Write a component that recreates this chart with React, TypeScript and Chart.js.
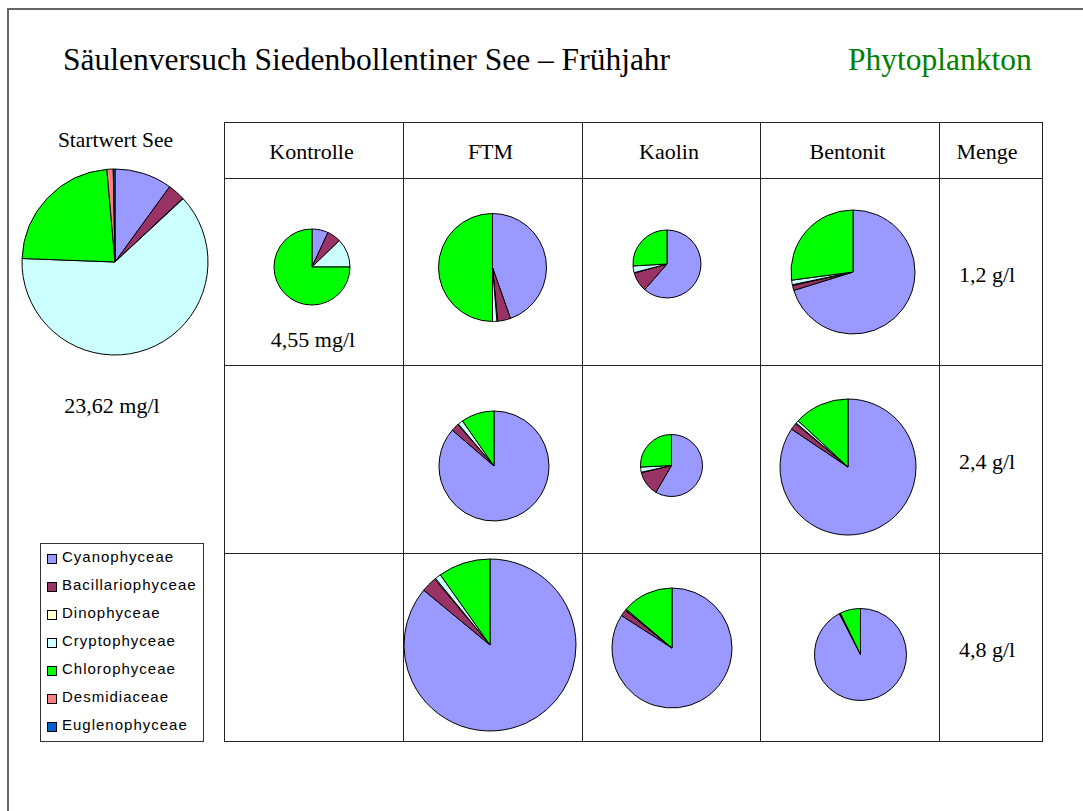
import React, { useEffect, useRef } from "react";
import { Chart, registerables } from "chart.js";

Chart.register(...registerables);

// ---------- data ----------
const categories = [
  "Cyanophyceae",
  "Bacillariophyceae",
  "Dinophyceae",
  "Cryptophyceae",
  "Chlorophyceae",
  "Desmidiaceae",
  "Euglenophyceae",
];
const colors = ["#9999FF", "#993366", "#FFFFCC", "#CCFFFF", "#00FF00", "#FF8080", "#0066CC"];

const treatments = ["Kontrolle", "FTM", "Kaolin", "Bentonit"];
const doseLabels = ["1,2 g/l", "2,4 g/l", "4,8 g/l"];

// shares in % (order as categories)
const startShares = [10.0, 3.0, 0.1, 62.5, 23.0, 1.1, 0.3];
const startTotal = 23.62; // mg/l

const kontrolleShares = [6.9, 5.9, 0, 12.2, 75.0, 0, 0];
const kontrolleTotal = 4.55; // mg/l

const ftmShares12 = [44.6, 3.9, 0.2, 1.3, 50.0, 0, 0];
const ftmShares24 = [86.3, 2.3, 0.2, 1.5, 9.7, 0, 0];
const ftmShares48 = [86.0, 2.9, 0.2, 1.1, 9.8, 0, 0];

const kaolinShares12 = [61.4, 9.3, 0.2, 3.2, 25.9, 0, 0];
const kaolinShares24 = [58.4, 12.9, 0.2, 2.7, 25.8, 0, 0];
const kaolinShares48 = [84.1, 1.7, 0.1, 0.3, 13.8, 0, 0];

const bentonitShares12 = [70.2, 1.3, 0.2, 1.2, 27.1, 0, 0];
const bentonitShares24 = [84.4, 1.6, 0.2, 0.7, 13.1, 0, 0];
const bentonitShares48 = [92.4, 0.4, 0, 0, 7.2, 0, 0];

// totals (mg/l) estimated from pie areas
const ftmTotals = [9.19, 9.53, 23.3];
const kaolinTotals = [3.64, 3.03, 11.34];
const bentonitTotals = [12.11, 14.57, 6.67];

// ---------- layout ----------
const SERIF = '"Liberation Serif", "Times New Roman", serif';
const SANS = '"Liberation Sans", Arial, sans-serif';
const colEdges = [224, 403, 582, 760, 939, 1042];
const rowEdges = [122, 178, 365, 553, 741];
const pieCenters: Record<string, [number, number]> = {
  "0-0": [312, 267],
  "0-1": [492, 267],
  "0-2": [667, 264],
  "0-3": [853, 272],
  "1-1": [494, 466],
  "1-2": [671, 465],
  "1-3": [848, 467],
  "2-1": [490, 645],
  "2-2": [672, 648],
  "2-3": [860, 654],
};
const GRID_R0 = 38; // radius for the Kontrolle reference pie
const START_R = 93;

const fmt = (v: number) => v.toFixed(2).replace(".", ",");

function Pie({ values, radius, cx, cy }: { values: number[]; radius: number; cx: number; cy: number }) {
  const ref = useRef<HTMLCanvasElement>(null);
  const size = Math.ceil(radius * 2 + 6);
  useEffect(() => {
    const chart = new Chart(ref.current as HTMLCanvasElement, {
      type: "pie",
      data: {
        labels: categories,
        datasets: [
          {
            data: values,
            backgroundColor: colors,
            borderColor: "#000000",
            borderWidth: 1,
            radius: radius,
          } as any,
        ],
      },
      options: {
        responsive: false,
        animation: false,
        events: [],
        layout: { padding: 0 },
        plugins: { legend: { display: false }, tooltip: { enabled: false } },
      },
    });
    return () => chart.destroy();
  }, [values, radius]);
  return (
    <canvas
      ref={ref}
      width={size}
      height={size}
      style={{ position: "absolute", left: cx - size / 2, top: cy - size / 2, width: size, height: size }}
    />
  );
}

function Txt({
  x,
  y,
  size,
  children,
  align = "left",
  font = SERIF,
  color = "#000",
  spacing = 0,
}: {
  x: number;
  y: number;
  size: number;
  children: React.ReactNode;
  align?: "left" | "center";
  font?: string;
  color?: string;
  spacing?: number;
}) {
  const k = font === SANS ? 0.8465 : 0.8375;
  return (
    <div
      style={{
        position: "absolute",
        left: x,
        top: y - k * size,
        fontFamily: font,
        fontSize: size,
        lineHeight: `${size}px`,
        color,
        whiteSpace: "nowrap",
        letterSpacing: spacing,
        transform: align === "center" ? "translateX(-50%)" : undefined,
      }}
    >
      {children}
    </div>
  );
}

function Line({ x, y, w, h }: { x: number; y: number; w: number; h: number }) {
  return <div style={{ position: "absolute", left: x, top: y, width: w, height: h, background: "#222" }} />;
}

export default function App() {
  const grid: { row: number; col: number; values: number[]; total: number }[] = [
    { row: 0, col: 0, values: kontrolleShares, total: kontrolleTotal },
    { row: 0, col: 1, values: ftmShares12, total: ftmTotals[0] },
    { row: 0, col: 2, values: kaolinShares12, total: kaolinTotals[0] },
    { row: 0, col: 3, values: bentonitShares12, total: bentonitTotals[0] },
    { row: 1, col: 1, values: ftmShares24, total: ftmTotals[1] },
    { row: 1, col: 2, values: kaolinShares24, total: kaolinTotals[1] },
    { row: 1, col: 3, values: bentonitShares24, total: bentonitTotals[1] },
    { row: 2, col: 1, values: ftmShares48, total: ftmTotals[2] },
    { row: 2, col: 2, values: kaolinShares48, total: kaolinTotals[2] },
    { row: 2, col: 3, values: bentonitShares48, total: bentonitTotals[2] },
  ];
  const tableW = colEdges[colEdges.length - 1] - colEdges[0];
  const tableH = rowEdges[rowEdges.length - 1] - rowEdges[0];
  return (
    <div style={{ position: "fixed", inset: 0, overflow: "hidden", background: "#fff" }}>
      {/* slide frame */}
      <div
        style={{
          position: "absolute",
          left: 7,
          top: 8,
          width: 1200,
          height: 1000,
          borderLeft: "2px solid #666",
          borderTop: "2px solid #666",
        }}
      />
      <Txt x={63} y={70} size={31.5}>
        Säulenversuch Siedenbollentiner See – Frühjahr
      </Txt>
      <Txt x={848} y={70} size={31.5} color="#008000">
        Phytoplankton
      </Txt>

      {/* start pie */}
      <Txt x={115.5} y={148} size={21.5} align="center">
        Startwert See
      </Txt>
      <Pie values={startShares} radius={START_R} cx={115} cy={262} />
      <Txt x={112} y={413} size={22} align="center">
        {fmt(startTotal)} mg/l
      </Txt>

      {/* legend */}
      <div
        style={{
          position: "absolute",
          left: 40,
          top: 543,
          width: 164,
          height: 199,
          boxSizing: "border-box",
          border: "1px solid #333",
        }}
      />
      {categories.map((c, i) => (
        <React.Fragment key={c}>
          <div
            style={{
              position: "absolute",
              left: 47,
              top: 554 + 28 * i,
              width: 10,
              height: 10,
              boxSizing: "border-box",
              border: "1px solid #000",
              background: colors[i],
            }}
          />
          <Txt x={62} y={562 + 28 * i} size={15} font={SANS} spacing={1}>
            {c}
          </Txt>
        </React.Fragment>
      ))}

      {/* table */}
      <div
        style={{
          position: "absolute",
          left: colEdges[0],
          top: rowEdges[0],
          width: tableW + 1,
          height: tableH + 1,
          boxSizing: "border-box",
          border: "1px solid #222",
        }}
      />
      {colEdges.slice(1, -1).map((x) => (
        <Line key={"c" + x} x={x} y={rowEdges[0]} w={1} h={tableH} />
      ))}
      {rowEdges.slice(1, -1).map((y) => (
        <Line key={"r" + y} x={colEdges[0]} y={y} w={tableW} h={1} />
      ))}
      {treatments.map((t, i) => (
        <Txt key={t} x={(colEdges[i] + colEdges[i + 1]) / 2 - 2} y={159} size={22} align="center">
          {t}
        </Txt>
      ))}
      <Txt x={987} y={159} size={22} align="center">
        Menge
      </Txt>
      {doseLabels.map((d, i) => (
        <Txt key={d} x={987} y={rowEdges[i + 1] + 104} size={22} align="center">
          {d}
        </Txt>
      ))}
      <Txt x={313} y={347} size={22} align="center">
        {fmt(kontrolleTotal)} mg/l
      </Txt>

      {grid.map((g) => {
        const [cx, cy] = pieCenters[`${g.row}-${g.col}`];
        const r = GRID_R0 * Math.sqrt(g.total / kontrolleTotal);
        return <Pie key={`${g.row}-${g.col}`} values={g.values} radius={r} cx={cx} cy={cy} />;
      })}
    </div>
  );
}
